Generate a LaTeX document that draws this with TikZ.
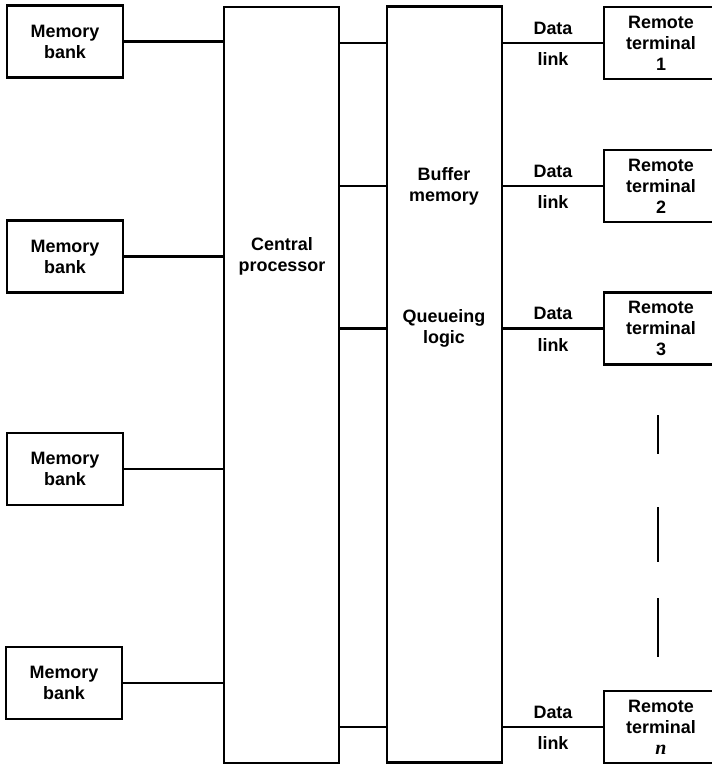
\documentclass[tikz,border=0pt]{standalone}
\usepackage{fontspec}
\setmainfont{Liberation Sans}
\newfontfamily\serifitfont{Liberation Serif}
\begin{document}
\begin{tikzpicture}[x=1bp,y=-1bp,
  every node/.style={font=\bfseries\fontsize{18}{21}\selectfont, align=center, inner sep=0pt},
  box/.style={draw, line width=2.4bp, rectangle},
  membox/.style={box, minimum width=116bp, minimum height=72bp},
  termbox/.style={box, minimum width=114bp, minimum height=72bp},
  tallbox/.style={box, minimum width=115bp, minimum height=756bp},
  wire/.style={line width=2.6bp},
  dotline/.style={line width=2.8bp}
]
\useasboundingbox (0,0) rectangle (712,764);
% memory banks
\node[membox] (m1) at (65,41.5) {Memory\\bank};
\node[membox] (m2) at (65,256.5) {Memory\\bank};
\node[membox] (m3) at (65,469) {Memory\\bank};
\node[membox] (m4) at (64,683) {Memory\\bank};
% central processor and buffer
\node[tallbox] (cpu) at (281.5,385) {};
\node (cpulbl) at (282,256.5) {Central\\processor};
\node[tallbox] (buf) at (444.5,384.5) {};
\node (buflbl) at (444,186) {Buffer\\memory};
\node (qlbl) at (444,328) {Queueing\\logic};
% remote terminals
\node[termbox] (t1) at (661,43) {Remote\\terminal\\1};
\node[termbox] (t2) at (661,186) {Remote\\terminal\\2};
\node[termbox] (t3) at (661,328.5) {Remote\\terminal\\3};
\node[termbox] (tn) at (661,727) {Remote\\terminal\\{\serifitfont\bfseries\itshape\fontsize{20}{21}\selectfont n}};
% memory to cpu
\foreach \m in {m1,m2,m3,m4} {
  \draw[wire] (\m.east) -- (\m.east -| cpu.west);
}
% cpu to buffer and data links
\foreach \t in {t1,t2,t3,tn} {
  \draw[wire] (\t.west -| cpu.east) -- (\t.west -| buf.west);
  \draw[wire] (\t.west -| buf.east) -- node[yshift=15bp]{Data} node[yshift=-16bp]{link} (\t.west);
}
% vertical dashes
\coordinate (d1a) at (658,415); \coordinate (d1b) at (658,454);
\coordinate (d2a) at (658,507); \coordinate (d2b) at (658,562);
\coordinate (d3a) at (658,598); \coordinate (d3b) at (658,657);
\draw[dotline] (d1a) -- (d1b);
\draw[dotline] (d2a) -- (d2b);
\draw[dotline] (d3a) -- (d3b);
\end{tikzpicture}
\end{document}
